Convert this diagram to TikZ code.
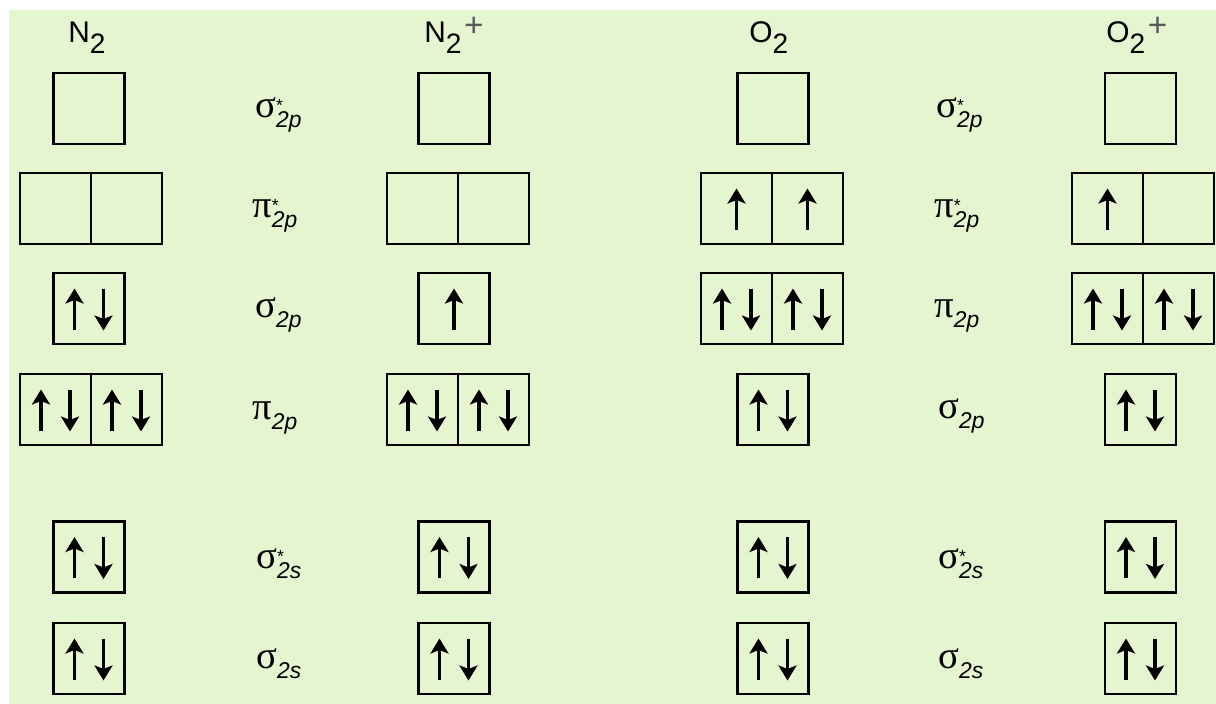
\documentclass[tikz,border=0pt]{standalone}
\usepackage{fontspec}
\setmainfont{Liberation Sans}
\newfontfamily\greek{Liberation Serif}
\usetikzlibrary{arrows.meta}
\pgfdeclarelayer{edgelayer}
\pgfdeclarelayer{nodelayer}
\pgfsetlayers{edgelayer,nodelayer,main}
\definecolor{paper}{RGB}{229,245,208}
\tikzstyle{orbital}=[draw=black, line width=1.2pt, minimum size=1.42cm, inner sep=0pt]
\tikzstyle{spin}=[draw=black, line width=2.1pt, -{Stealth[length=0.3cm, width=0.36cm, inset=0.07cm]}]
\tikzstyle{molecule}=[anchor=base west, inner sep=0pt, font=\fontsize{17}{17}\selectfont]
\tikzstyle{level}=[anchor=base west, inner sep=0pt]
\newcommand{\formula}[2]{#1\raisebox{-6.3pt}{\fontsize{16}{16}\selectfont 2}#2}
\newcommand{\charge}{\hspace{1.5pt}\raisebox{3pt}{\color{black!65}\fontsize{19}{19}\selectfont +}}
\newcommand{\mo}[3]{{\greek\fontsize{22}{22}\selectfont #1}\rlap{\raisebox{3.2pt}{\fontsize{10}{10}\selectfont #3}}\raisebox{-5.7pt}{\fontsize{13}{13}\selectfont\itshape #2}}
\newcommand{\pair}[1]{%
	\draw [style=spin] ([xshift=-0.29cm, yshift=-0.42cm]#1.center) to ([xshift=-0.29cm, yshift=0.40cm]#1.center);
	\draw [style=spin] ([xshift=0.29cm, yshift=0.40cm]#1.center) to ([xshift=0.29cm, yshift=-0.44cm]#1.center);}
\newcommand{\single}[1]{%
	\draw [style=spin] ([yshift=-0.42cm]#1.center) to ([yshift=0.40cm]#1.center);}

\begin{document}
\begin{tikzpicture}
	\useasboundingbox (0, 0) rectangle (24.32, -14.08);
	\begin{pgfonlayer}{edgelayer}
		\fill [white] (0, 0) rectangle (24.32, -14.08);
		\fill [paper] (0.18, -0.2) rectangle (24.32, -14.08);
	\end{pgfonlayer}
	\begin{pgfonlayer}{nodelayer}
		% sigma*2p
		\node [style=orbital] (0) at (1.78, -2.17) {};
		\node [style=orbital] (1) at (9.08, -2.17) {};
		\node [style=orbital] (2) at (15.46, -2.17) {};
		\node [style=orbital] (3) at (22.81, -2.17) {};
		% pi*2p
		\node [style=orbital] (4) at (1.11, -4.17) {};
		\node [style=orbital] (5) at (2.53, -4.17) {};
		\node [style=orbital] (6) at (8.45, -4.17) {};
		\node [style=orbital] (7) at (9.87, -4.17) {};
		\node [style=orbital] (8) at (14.73, -4.17) {};
		\node [style=orbital] (9) at (16.15, -4.17) {};
		\node [style=orbital] (10) at (22.15, -4.17) {};
		\node [style=orbital] (11) at (23.57, -4.17) {};
		% third row
		\node [style=orbital] (12) at (1.78, -6.17) {};
		\node [style=orbital] (13) at (9.08, -6.17) {};
		\node [style=orbital] (14) at (14.73, -6.17) {};
		\node [style=orbital] (15) at (16.15, -6.17) {};
		\node [style=orbital] (16) at (22.15, -6.17) {};
		\node [style=orbital] (17) at (23.57, -6.17) {};
		% fourth row
		\node [style=orbital] (18) at (1.11, -8.19) {};
		\node [style=orbital] (19) at (2.53, -8.19) {};
		\node [style=orbital] (20) at (8.45, -8.19) {};
		\node [style=orbital] (21) at (9.87, -8.19) {};
		\node [style=orbital] (22) at (15.46, -8.19) {};
		\node [style=orbital] (23) at (22.81, -8.19) {};
		% sigma*2s
		\node [style=orbital] (24) at (1.78, -11.14) {};
		\node [style=orbital] (25) at (9.08, -11.14) {};
		\node [style=orbital] (26) at (15.46, -11.14) {};
		\node [style=orbital] (27) at (22.81, -11.14) {};
		% sigma2s
		\node [style=orbital] (28) at (1.78, -13.17) {};
		\node [style=orbital] (29) at (9.08, -13.17) {};
		\node [style=orbital] (30) at (15.46, -13.17) {};
		\node [style=orbital] (31) at (22.81, -13.17) {};
		% molecules
		\node [style=molecule] (32) at (1.36, -0.84) {\formula{N}{}};
		\node [style=molecule] (33) at (8.48, -0.84) {\formula{N}{\charge}};
		\node [style=molecule] (34) at (14.98, -0.84) {\formula{O}{}};
		\node [style=molecule] (35) at (22.12, -0.84) {\formula{O}{\charge}};
		% levels
		\node [style=level] (36) at (5.10, -2.34) {\mo{σ}{2p}{*}};
		\node [style=level] (37) at (5.04, -4.34) {\mo{π}{2p}{*}};
		\node [style=level] (38) at (5.10, -6.34) {\mo{σ}{2p}{}};
		\node [style=level] (39) at (5.04, -8.38) {\mo{π}{2p}{}};
		\node [style=level] (40) at (5.12, -11.36) {\mo{σ}{2s}{*}};
		\node [style=level] (41) at (5.12, -13.36) {\mo{σ}{2s}{}};
		\node [style=level] (42) at (18.72, -2.34) {\mo{σ}{2p}{*}};
		\node [style=level] (43) at (18.68, -4.34) {\mo{π}{2p}{*}};
		\node [style=level] (44) at (18.68, -6.34) {\mo{π}{2p}{}};
		\node [style=level] (45) at (18.76, -8.36) {\mo{σ}{2p}{}};
		\node [style=level] (46) at (18.76, -11.36) {\mo{σ}{2s}{*}};
		\node [style=level] (47) at (18.76, -13.36) {\mo{σ}{2s}{}};
	\end{pgfonlayer}
	% electrons
	\single{8}
	\single{9}
	\single{10}
	\pair{12}
	\single{13}
	\pair{14}
	\pair{15}
	\pair{16}
	\pair{17}
	\pair{18}
	\pair{19}
	\pair{20}
	\pair{21}
	\pair{22}
	\pair{23}
	\pair{24}
	\pair{25}
	\pair{26}
	\pair{27}
	\pair{28}
	\pair{29}
	\pair{30}
	\pair{31}
\end{tikzpicture}
\end{document}
